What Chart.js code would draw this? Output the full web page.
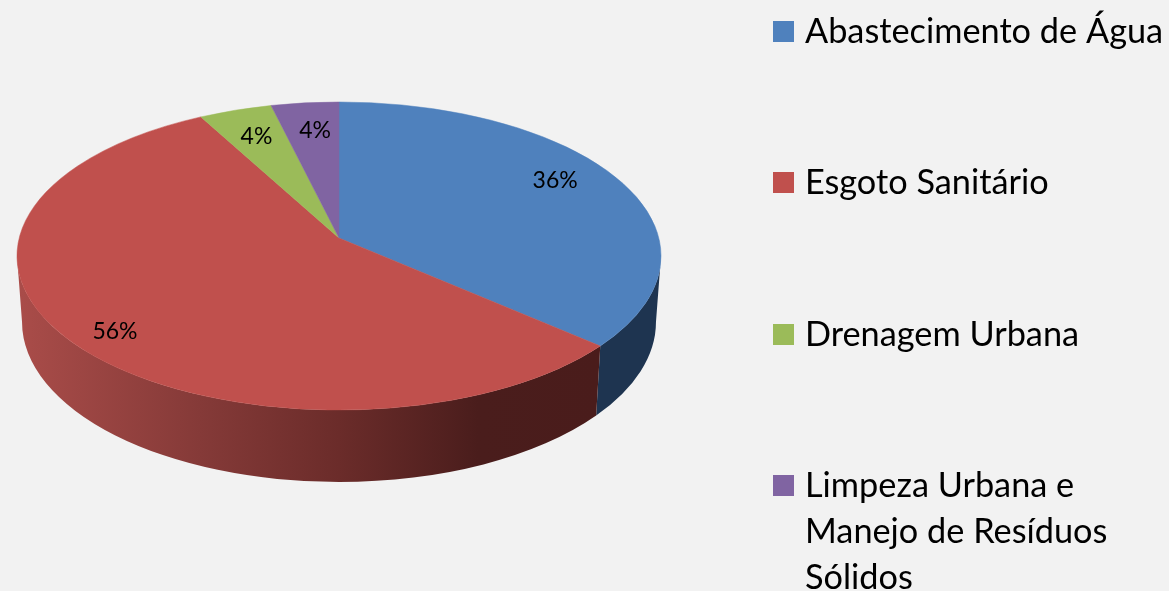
<!DOCTYPE html>
<html>
<head>
<meta charset="utf-8">
<title>Pie</title>
<script src="https://cdn.jsdelivr.net/npm/chart.js@4"></script>
<style>
    html, body { margin: 0; padding: 0; background: #f2f2f2; }
    canvas { display: block; }
</style>
</head>
<body>
<canvas id="pieChart" width="1169" height="591"></canvas>
<script>
const categories = [
    ["Abastecimento de Água"],
    ["Esgoto Sanitário"],
    ["Drenagem Urbana"],
    ["Limpeza Urbana e", "Manejo de Resíduos", "Sólidos"]
];
const shares = [36.4, 55.7, 4.1, 3.8];
const topColors = ["#4f81bd", "#c0504d", "#9bbb59", "#8064a2"];

const FONT = '"Lato", "Open Sans", sans-serif';
const tilt = 0.1169; // perspective of the tilted disc
const topFace = { x: 339, y: 238, a: 319.8, b: 151.9 };
const bottomFace = { x: 339, y: 303.3, a: 314.8, b: 157.8 };

// arc angle -> point on the tilted disc, r = 1 is the rim
function project(face, angle, r) {
    const u = Math.cos(angle) * r;
    const v = Math.sin(angle) * r;
    const d = 1 - tilt * v;
    return { x: face.x + face.a * u / d, y: face.y + face.b * v / d };
}

function rim(face) {
    const k = 1 - tilt * tilt;
    return { x: face.x, y: face.y + face.b * tilt / k, rx: face.a / Math.sqrt(k), ry: face.b / k };
}

function rimAngle(face, angle) {
    const e = rim(face);
    const p = project(face, angle, 1);
    return Math.atan2((p.y - e.y) / e.ry, (p.x - e.x) / e.rx);
}

function wallFill(ctx, i) {
    if (i === 0) return "#1e3450";
    const g = ctx.createLinearGradient(20, 0, 600, 0);
    g.addColorStop(0, "#a94c49");
    g.addColorStop(0.31, "#853a38");
    g.addColorStop(0.55, "#6b2c2a");
    g.addColorStop(0.79, "#4a1d1c");
    g.addColorStop(1, "#4a1c1b");
    return g;
}

const disc3d = {
    id: "disc3d",
    beforeDatasetsDraw(chart) {
        const ctx = chart.ctx;
        const arcs = chart.getDatasetMeta(0).data;
        const topRim = rim(topFace);
        const botRim = rim(bottomFace);
        ctx.save();

        // side wall, only the near half of the rim shows
        arcs.forEach((arc, i) => {
            const clamp = a => Math.min(Math.PI, Math.max(0, a));
            const range = face => {
                const s = rimAngle(face, arc.startAngle);
                let e = rimAngle(face, arc.endAngle);
                if (e < s) e += Math.PI * 2;
                return [clamp(s), clamp(e)];
            };
            const t = range(topFace);
            const b = range(bottomFace);
            if (t[0] >= t[1]) return;
            ctx.beginPath();
            ctx.ellipse(topRim.x, topRim.y, topRim.rx, topRim.ry, 0, t[0], t[1]);
            ctx.ellipse(botRim.x, botRim.y, botRim.rx, botRim.ry, 0, b[1], b[0], true);
            ctx.closePath();
            ctx.fillStyle = wallFill(ctx, i);
            ctx.fill();
        });

        // top face
        arcs.forEach((arc, i) => {
            ctx.beginPath();
            ctx.moveTo(topFace.x, topFace.y);
            ctx.ellipse(topRim.x, topRim.y, topRim.rx, topRim.ry, 0,
                rimAngle(topFace, arc.startAngle), rimAngle(topFace, arc.endAngle));
            ctx.closePath();
            ctx.fillStyle = topColors[i];
            ctx.strokeStyle = topColors[i];
            ctx.lineWidth = 0.5;
            ctx.fill();
            ctx.stroke();
        });

        // percent labels, nudged to where the original sits them
        const nudge = [[-8, -9], [-12, 13], [2, 3], [4, 3]];
        ctx.fillStyle = "#000";
        ctx.font = "23px " + FONT;
        ctx.textAlign = "center";
        ctx.textBaseline = "middle";
        arcs.forEach((arc, i) => {
            const p = project(topFace, (arc.startAngle + arc.endAngle) / 2, 0.8);
            ctx.fillText(Math.round(shares[i]) + "%", p.x + nudge[i][0], p.y + nudge[i][1]);
        });

        ctx.restore();
        return false; // the flat arcs are replaced by the disc above
    },
    afterDraw(chart) {
        const ctx = chart.ctx;
        const entryY = [43, 194, 346, 497];
        ctx.save();
        ctx.font = "34.3px " + FONT;
        ctx.textAlign = "left";
        ctx.textBaseline = "alphabetic";
        categories.forEach((lines, i) => {
            ctx.fillStyle = topColors[i];
            ctx.fillRect(773, entryY[i] - 22, 21, 21);
            ctx.fillStyle = "#000";
            lines.forEach((line, j) => {
                ctx.fillText(line, 805, entryY[i] + j * 46);
            });
        });
        ctx.restore();
    }
};

new Chart(document.getElementById("pieChart"), {
    type: "pie",
    data: {
        labels: categories,
        datasets: [{
            data: shares,
            backgroundColor: topColors,
            borderWidth: 0
        }]
    },
    options: {
        responsive: false,
        animation: false,
        plugins: {
            legend: { display: false },
            tooltip: { enabled: false }
        }
    },
    plugins: [disc3d]
});
</script>
</body>
</html>
